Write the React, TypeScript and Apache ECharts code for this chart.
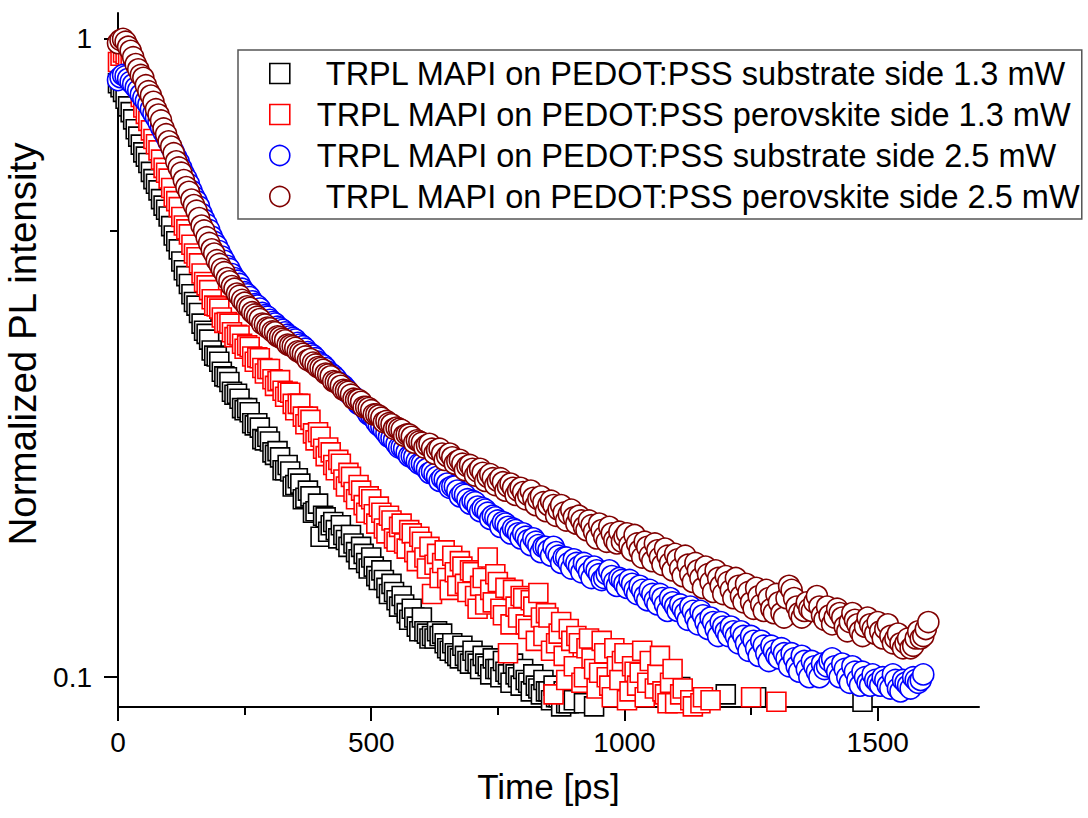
import React, { useEffect, useRef } from "react";
import * as echarts from "echarts";

// sampling step of the TRPL traces, ps
const T_STEP = 5;

const seriesNames = [
  "TRPL MAPI on PEDOT:PSS substrate side 1.3 mW",
  "TRPL MAPI on PEDOT:PSS perovskite side 1.3 mW",
  "TRPL MAPI on PEDOT:PSS substrate side 2.5 mW",
  "TRPL MAPI on PEDOT:PSS perovskite side 2.5 mW",
];

// substrate side 1.3 mW, t = 0 .. 1500 ps (one row = 100 ps)
const substrate13 = [
  0.852, 0.84, 0.826, 0.806, 0.784, 0.768, 0.748, 0.722, 0.703, 0.683, 0.664, 0.654, 0.639, 0.619, 0.603, 0.593, 0.579, 0.561, 0.548, 0.54,
  0.527, 0.509, 0.492, 0.482, 0.468, 0.448, 0.434, 0.425, 0.413, 0.398, 0.387, 0.382, 0.372, 0.358, 0.349, 0.345, 0.338, 0.325, 0.319, 0.318,
  0.312, 0.301, 0.296, 0.295, 0.29, 0.28, 0.277, 0.278, 0.273, 0.264, 0.262, 0.264, 0.26, 0.25, 0.248, 0.25, 0.246, 0.236, 0.235, 0.238,
  0.234, 0.225, 0.223, 0.226, 0.221, 0.211, 0.211, 0.215, 0.21, 0.199, 0.2, 0.205, 0.201, 0.19, 0.191, 0.196, 0.192, 0.181, 0.182, 0.187,
  0.166, 0.179, 0.178, 0.169, 0.173, 0.175, 0.17, 0.165, 0.173, 0.167, 0.164, 0.16, 0.167, 0.162, 0.157, 0.153, 0.16, 0.156, 0.151, 0.148,
  0.154, 0.149, 0.144, 0.142, 0.147, 0.142, 0.138, 0.135, 0.14, 0.136, 0.132, 0.129, 0.134, 0.13, 0.126, 0.123, 0.128, 0.124, 0.12, 0.118,
  0.124, 0.118, 0.117, 0.115, 0.116, 0.115, 0.118, 0.116, 0.117, 0.113, 0.111, 0.11, 0.113, 0.109, 0.108, 0.107, 0.112, 0.108, 0.106, 0.105,
  0.11, 0.106, 0.105, 0.103, 0.108, 0.105, 0.104, 0.101, 0.107, 0.103, 0.103, 0.1, 0.106, 0.102, 0.101, 0.098, 0.105, 0.101, 0.1, 0.097,
  0.103, 0.099, 0.098, 0.095, 0.101, 0.097, 0.096, 0.094, 0.099, 0.095, 0.095, 0.092, 0.097, 0.093, 0.093, 0.09, 0.095, 0.091, 0.091, 0.088,
  0.092, 0.089, 0.089, 0.087, 0.091, 0.088, 0.087, 0.085, 0.09, 0.086, 0.086, 0.084, 0.088, 0.085, 0.085, 0.083, 0.087, 0.084, 0.084, 0.082,
  0.086, 0.083, 0.083, 0.081, 0.085, 0.082, 0.082, 0.08, 0.084, 0.081, 0.082, 0.08, 0.083, 0.081, 0.081, 0.079, 0.083, 0.081, 0.082, 0.08,
  0.084, 0.081, 0.0965, 0.082, 0.083, 0.08, 0.081, 0.079, 0.082, 0.08, 0.08, 0.078, 0.082, 0.079, 0.08, 0.078, 0.081, 0.079, 0.08, 0.078,
  0.094, 0.08, 0.081, 0.079, 0.079, 0.077, 0.08, 0.078, 0.081, 0.079, 0.08, 0.078, 0.093, 0.079, 0.079, 0.077, 0.08, 0.078, 0.078, 0.076,
  0.08, 0.078, 0.079, 0.077, 0.078, 0.077, 0.08, 0.078, 0.079, 0.077, 0.077, 0.076, 0.079, 0.077, 0.078, 0.076, 0.077, 0.076, 0.079, 0.077,
  0.078, 0.076, 0.077, 0.075, 0.079, 0.077, 0.078, 0.076, 0.077, 0.076, 0.078, 0.076, 0.076, 0.075, 0.0915, 0.077, 0.077, 0.075, 0.078, 0.076,
  0.076,
];

// perovskite side 1.3 mW, t = 0 .. 1300 ps
const perovskite13 = [
  0.92, 0.941, 0.952, 0.946, 0.934, 0.918, 0.897, 0.872, 0.843, 0.811, 0.781, 0.763, 0.744, 0.719, 0.697, 0.684, 0.669, 0.647, 0.628, 0.617,
  0.604, 0.584, 0.566, 0.557, 0.545, 0.526, 0.51, 0.503, 0.494, 0.476, 0.461, 0.455, 0.445, 0.429, 0.416, 0.411, 0.404, 0.391, 0.382, 0.381,
  0.378, 0.366, 0.359, 0.36, 0.358, 0.347, 0.341, 0.344, 0.343, 0.333, 0.327, 0.331, 0.329, 0.318, 0.312, 0.317, 0.316, 0.305, 0.299, 0.304,
  0.304, 0.293, 0.286, 0.291, 0.292, 0.281, 0.275, 0.28, 0.279, 0.268, 0.262, 0.268, 0.268, 0.256, 0.249, 0.256, 0.253, 0.241, 0.235, 0.242,
  0.238, 0.228, 0.222, 0.229, 0.225, 0.215, 0.211, 0.219, 0.216, 0.204, 0.199, 0.209, 0.206, 0.195, 0.19, 0.2, 0.196, 0.186, 0.181, 0.192,
  0.19, 0.18, 0.174, 0.185, 0.181, 0.171, 0.168, 0.179, 0.176, 0.165, 0.163, 0.172, 0.174, 0.162, 0.159, 0.17, 0.168, 0.157, 0.152, 0.166,
  0.163, 0.154, 0.148, 0.16, 0.135, 0.15, 0.156, 0.143, 0.151, 0.158, 0.143, 0.137, 0.155, 0.146, 0.139, 0.152, 0.149, 0.14, 0.136, 0.147,
  0.146, 0.134, 0.128, 0.139, 0.143, 0.13, 0.154, 0.137, 0.131, 0.145, 0.141, 0.128, 0.125, 0.138, 0.109, 0.121, 0.137, 0.129, 0.124, 0.134,
  0.133, 0.121, 0.119, 0.132, 0.129, 0.114, 0.1355, 0.124, 0.116, 0.126, 0.124, 0.11, 0.094, 0.113, 0.117, 0.122, 0.108, 0.099, 0.119, 0.114,
  0.104, 0.116, 0.113, 0.098, 0.1, 0.111, 0.115, 0.107, 0.103, 0.096, 0.1016, 0.114, 0.109, 0.1, 0.097, 0.093, 0.111, 0.104, 0.099, 0.106,
  0.109, 0.092, 0.095, 0.104, 0.102, 0.097, 0.1016, 0.11, 0.093, 0.098, 0.106, 0.089, 0.096, 0.101, 0.108, 0.095, 0.094, 0.091, 0.098, 0.103,
  0.091, 0.087, 0.094, 0.096, 0.088, 0.085, 0.092, 0.09, 0.087, 0.086, 0.091, 0.093, 0.089, 0.086, 0.092, 0.088, 0.088, 0.085, 0.087, 0.084,
  0.089, 0.087, 0.086, 0.084, 0.087, 0.085, 0.085, 0.083, 0.086, 0.084, 0.093, 0.085, 0.085, 0.083, 0.086, 0.084, 0.084, 0.082, 0.085, 0.083,
  0.0915,
];

// substrate side 2.5 mW, t = 0 .. 1590 ps
const substrate25 = [
  0.862, 0.871, 0.878, 0.874, 0.866, 0.857, 0.849, 0.839, 0.831, 0.818, 0.808, 0.799, 0.789, 0.776, 0.764, 0.753, 0.741, 0.727, 0.715, 0.703,
  0.69, 0.677, 0.665, 0.652, 0.641, 0.627, 0.614, 0.604, 0.592, 0.578, 0.566, 0.557, 0.546, 0.532, 0.521, 0.512, 0.502, 0.49, 0.481, 0.474,
  0.465, 0.456, 0.449, 0.441, 0.436, 0.428, 0.422, 0.418, 0.413, 0.406, 0.401, 0.398, 0.394, 0.388, 0.384, 0.382, 0.378, 0.372, 0.369, 0.367,
  0.363, 0.36, 0.358, 0.354, 0.352, 0.35, 0.347, 0.344, 0.342, 0.34, 0.338, 0.334, 0.332, 0.33, 0.327, 0.323, 0.321, 0.319, 0.316, 0.312,
  0.31, 0.308, 0.305, 0.301, 0.299, 0.297, 0.294, 0.29, 0.288, 0.286, 0.283, 0.279, 0.277, 0.275, 0.272, 0.268, 0.267, 0.265, 0.262, 0.258,
  0.257, 0.255, 0.251, 0.248, 0.247, 0.244, 0.241, 0.238, 0.237, 0.235, 0.232, 0.229, 0.229, 0.228, 0.225, 0.222, 0.222, 0.221, 0.218, 0.216,
  0.216, 0.214, 0.212, 0.209, 0.21, 0.208, 0.206, 0.203, 0.205, 0.204, 0.201, 0.198, 0.199, 0.199, 0.196, 0.192, 0.194, 0.193, 0.19, 0.187,
  0.189, 0.188, 0.185, 0.182, 0.184, 0.183, 0.181, 0.177, 0.179, 0.178, 0.176, 0.172, 0.175, 0.174, 0.172, 0.168, 0.171, 0.17, 0.168, 0.165,
  0.168, 0.166, 0.164, 0.161, 0.165, 0.163, 0.161, 0.157, 0.16, 0.16, 0.158, 0.155, 0.16, 0.157, 0.155, 0.151, 0.154, 0.154, 0.151, 0.148,
  0.153, 0.151, 0.149, 0.146, 0.151, 0.149, 0.146, 0.143, 0.149, 0.147, 0.145, 0.142, 0.143, 0.145, 0.147, 0.144, 0.141, 0.139, 0.143, 0.142,
  0.14, 0.138, 0.142, 0.14, 0.137, 0.135, 0.139, 0.137, 0.134, 0.132, 0.137, 0.135, 0.132, 0.13, 0.135, 0.133, 0.13, 0.127, 0.133, 0.131,
  0.129, 0.127, 0.13, 0.128, 0.126, 0.123, 0.129, 0.127, 0.124, 0.121, 0.127, 0.125, 0.122, 0.119, 0.124, 0.122, 0.119, 0.116, 0.122, 0.12,
  0.118, 0.116, 0.12, 0.118, 0.116, 0.113, 0.118, 0.116, 0.113, 0.11, 0.116, 0.114, 0.111, 0.108, 0.114, 0.112, 0.109, 0.106, 0.112, 0.11,
  0.108, 0.107, 0.111, 0.109, 0.107, 0.104, 0.109, 0.107, 0.104, 0.102, 0.108, 0.106, 0.103, 0.1, 0.106, 0.104, 0.102, 0.1, 0.105, 0.103,
  0.104, 0.106, 0.107, 0.104, 0.102, 0.1, 0.105, 0.103, 0.1, 0.098, 0.104, 0.102, 0.099, 0.097, 0.102, 0.1, 0.098, 0.097, 0.101, 0.099,
  0.098, 0.097, 0.1, 0.099, 0.097, 0.096, 0.101, 0.099, 0.096, 0.095, 0.099, 0.098, 0.097, 0.096, 0.1, 0.099, 0.098, 0.099, 0.101,
];

// perovskite side 2.5 mW, t = 0 .. 1600 ps
const perovskite25 = [
  0.985, 0.996, 1.0, 0.99, 0.972, 0.958, 0.936, 0.913, 0.896, 0.878, 0.869, 0.846, 0.828, 0.815, 0.797, 0.776, 0.761, 0.745, 0.724, 0.709,
  0.691, 0.678, 0.662, 0.643, 0.629, 0.617, 0.601, 0.586, 0.576, 0.56, 0.549, 0.538, 0.524, 0.51, 0.501, 0.489, 0.479, 0.468, 0.461, 0.45,
  0.444, 0.436, 0.431, 0.422, 0.417, 0.41, 0.406, 0.399, 0.396, 0.39, 0.386, 0.381, 0.379, 0.373, 0.37, 0.367, 0.364, 0.358, 0.357, 0.353,
  0.352, 0.348, 0.347, 0.342, 0.341, 0.339, 0.337, 0.332, 0.331, 0.33, 0.328, 0.324, 0.323, 0.321, 0.318, 0.314, 0.315, 0.311, 0.309, 0.306,
  0.305, 0.303, 0.299, 0.298, 0.296, 0.291, 0.29, 0.289, 0.286, 0.282, 0.281, 0.28, 0.277, 0.273, 0.272, 0.272, 0.27, 0.265, 0.265, 0.264,
  0.262, 0.258, 0.258, 0.257, 0.255, 0.251, 0.252, 0.25, 0.249, 0.245, 0.246, 0.245, 0.244, 0.239, 0.24, 0.24, 0.238, 0.233, 0.235, 0.234,
  0.233, 0.229, 0.231, 0.232, 0.228, 0.224, 0.227, 0.228, 0.224, 0.219, 0.222, 0.224, 0.221, 0.216, 0.218, 0.219, 0.216, 0.211, 0.214, 0.215,
  0.212, 0.207, 0.21, 0.212, 0.209, 0.203, 0.206, 0.208, 0.205, 0.2, 0.203, 0.205, 0.202, 0.196, 0.199, 0.201, 0.198, 0.193, 0.196, 0.198,
  0.195, 0.19, 0.193, 0.196, 0.191, 0.186, 0.19, 0.192, 0.188, 0.182, 0.186, 0.189, 0.186, 0.179, 0.183, 0.186, 0.181, 0.176, 0.18, 0.183,
  0.178, 0.174, 0.179, 0.176, 0.172, 0.17, 0.176, 0.173, 0.169, 0.165, 0.174, 0.17, 0.166, 0.163, 0.172, 0.168, 0.164, 0.162, 0.169, 0.163,
  0.166, 0.168, 0.161, 0.158, 0.167, 0.162, 0.158, 0.154, 0.163, 0.16, 0.155, 0.152, 0.162, 0.158, 0.154, 0.15, 0.159, 0.155, 0.151, 0.147,
  0.156, 0.153, 0.148, 0.144, 0.155, 0.15, 0.145, 0.141, 0.151, 0.147, 0.143, 0.138, 0.149, 0.145, 0.141, 0.136, 0.147, 0.143, 0.139, 0.135,
  0.144, 0.141, 0.137, 0.133, 0.143, 0.139, 0.134, 0.131, 0.14, 0.136, 0.131, 0.128, 0.138, 0.134, 0.13, 0.127, 0.137, 0.133, 0.128, 0.126,
  0.135, 0.131, 0.126, 0.124, 0.133, 0.139, 0.137, 0.133, 0.129, 0.126, 0.124, 0.127, 0.131, 0.128, 0.127, 0.131, 0.134, 0.129, 0.125, 0.123,
  0.129, 0.125, 0.121, 0.124, 0.128, 0.126, 0.124, 0.12, 0.118, 0.122, 0.126, 0.123, 0.121, 0.118, 0.116, 0.12, 0.124, 0.121, 0.119, 0.117,
  0.122, 0.118, 0.115, 0.119, 0.121, 0.116, 0.113, 0.115, 0.117, 0.113, 0.111, 0.113, 0.115, 0.111, 0.112, 0.115, 0.118, 0.115, 0.116, 0.119,
  0.122,
];

const xTickValues = [0, 500, 1000, 1500];
const xMinorTickValues = [250, 750, 1250];
const yTickValues = [0.1, 1];
const yMinorTickValues = [0.5];

const X_MIN = 0;
const X_MAX = 1700;
const Y_MIN = 0.0898;
const Y_MAX = 1.098;

const FONT = "'Liberation Sans', Arial, Helvetica, sans-serif";
const colors = ["#000000", "#ff0000", "#0000ff", "#800000"];
const symbols = ["rect", "rect", "circle", "circle"];
const symbolSizes = [19, 19, 21, 21];
const allValues = [substrate13, perovskite13, substrate25, perovskite25];

const toPoints = (vals: number[]) => vals.map((v, i) => [i * T_STEP, v]);

export default function App() {
  const ref = useRef<HTMLDivElement>(null);

  useEffect(() => {
    if (!ref.current) return;
    const chart = echarts.init(ref.current, undefined, { renderer: "svg" });

    const axisLine = { show: true, onZero: false, lineStyle: { color: "#000", width: 2 } };

    chart.setOption({
      animation: false,
      backgroundColor: "#ffffff",
      grid: { left: 118, right: 109, top: 13, bottom: 111, containLabel: false, outerBoundsMode: "none" },
      xAxis: [
        {
          type: "value",
          min: X_MIN,
          max: X_MAX,
          position: "bottom",
          axisLine,
          axisTick: { show: true, inside: false, length: 14, lineStyle: { color: "#000", width: 2 }, customValues: xTickValues },
          axisLabel: {
            customValues: xTickValues,
            fontSize: 28,
            color: "#000",
            fontFamily: FONT,
            margin: 21,
            formatter: (v: number) => String(v),
          },
          splitLine: { show: false },
          name: "Time [ps]",
          nameLocation: "middle",
          nameGap: 62,
          nameTextStyle: { fontSize: 35, color: "#000", fontFamily: FONT },
        },
        {
          type: "value",
          min: X_MIN,
          max: X_MAX,
          position: "bottom",
          axisLine: { show: false, onZero: false },
          axisTick: { show: true, inside: false, length: 8, lineStyle: { color: "#000", width: 2 }, customValues: xMinorTickValues },
          axisLabel: { show: false },
          splitLine: { show: false },
        },
      ],
      yAxis: [
        {
          type: "log",
          logBase: 10,
          min: Y_MIN,
          max: Y_MAX,
          position: "left",
          axisLine,
          axisTick: { show: true, inside: false, length: 14, lineStyle: { color: "#000", width: 2 }, customValues: yTickValues },
          axisLabel: { customValues: yTickValues, fontSize: 28, color: "#000", fontFamily: FONT, margin: 26 },
          splitLine: { show: false },
          minorTick: { show: false },
          name: "Normalized PL intensity",
          nameLocation: "middle",
          nameGap: 68,
          nameRotate: 90,
          nameTextStyle: { fontSize: 38.5, color: "#000", fontFamily: FONT, padding: [0, 0, 0, 32] },
        },
        {
          type: "log",
          logBase: 10,
          min: Y_MIN,
          max: Y_MAX,
          position: "left",
          axisLine: { show: false, onZero: false },
          axisTick: { show: true, inside: false, length: 8, lineStyle: { color: "#000", width: 2 }, customValues: yMinorTickValues },
          axisLabel: { show: false },
          splitLine: { show: false },
        },
      ],
      legend: {
        orient: "vertical",
        left: 238,
        top: 50,
        padding: [7, 1, 6, 31],
        itemGap: 8,
        itemWidth: 20,
        itemHeight: 20,
        borderColor: "#555",
        borderWidth: 1.5,
        backgroundColor: "#fff",
        selectedMode: false,
        textStyle: { fontSize: 32.5, color: "#000", fontFamily: FONT },
        data: seriesNames.map((n, i) => ({
          name: n,
          icon: symbols[i],
          itemStyle: { color: "#fff", borderColor: colors[i], borderWidth: 1.6 },
          textStyle: { padding: [0, 0, 0, i === 0 || i === 3 ? 31 : 22] },
        })),
      },
      series: allValues.map((vals, i) => ({
        type: "scatter",
        name: seriesNames[i],
        data: toPoints(vals),
        xAxisIndex: 0,
        yAxisIndex: 0,
        symbol: symbols[i],
        symbolSize: symbolSizes[i],
        clip: true,
        itemStyle: { color: "#fff", borderColor: colors[i], borderWidth: 1.6, opacity: 1 },
        emphasis: { disabled: true },
      })),
    });

    return () => chart.dispose();
  }, []);

  return (
    <div
      ref={ref}
      style={{ position: "fixed", left: 0, top: 0, width: 1088, height: 818, background: "#fff" }}
    />
  );
}
